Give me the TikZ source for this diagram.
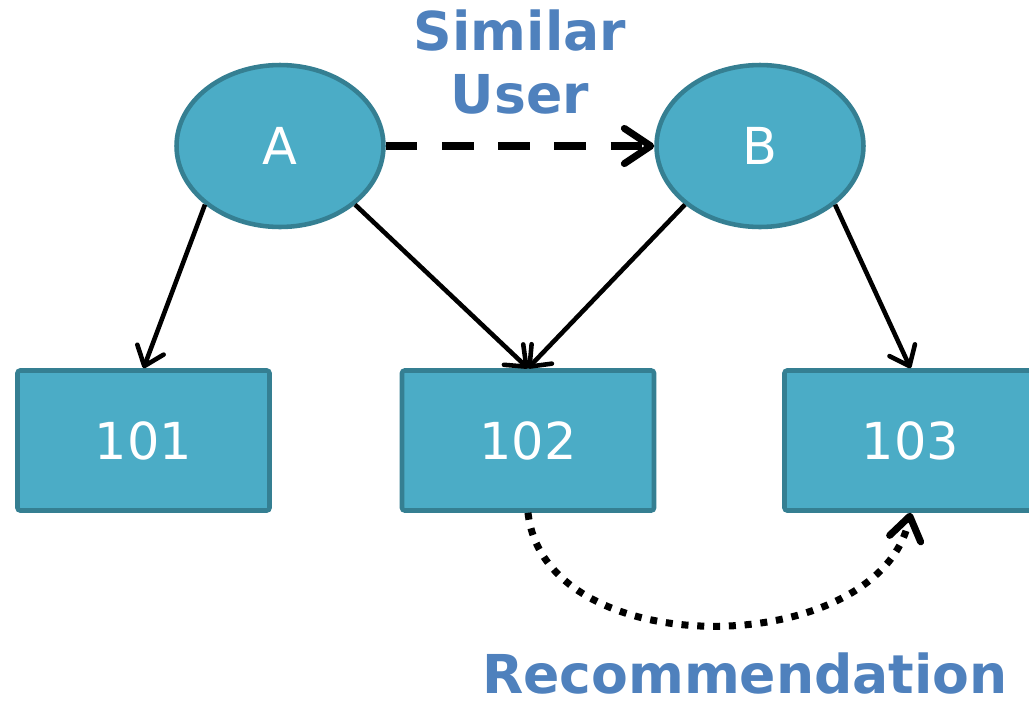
\documentclass[tikz,border=0pt]{standalone}
\usepackage{fontspec}
\setmainfont{DejaVu Sans}
\usepackage{tikz}
\usetikzlibrary{positioning,
                arrows.meta,
                shapes.geometric,
                calc}

\begin{document}
\begin{tikzpicture}[x=0.02cm,y=-0.02cm,
  user/.style={ellipse,draw=border,fill=body,line width=2.6pt,
    minimum width=4.14cm,minimum height=3.24cm,text=white,
    font=\fontsize{29}{34}\selectfont},
  item/.style={rectangle,rounded corners=1.5pt,draw=border,fill=body,line width=2.6pt,
    minimum width=5.04cm,minimum height=2.8cm,text=white,
    font=\fontsize{29}{34}\selectfont},
  rates/.style={line width=2.6pt,-{Straight Barb[length=10pt,width=16pt,round]}},
  caption/.style={text=caption,font=\bfseries\fontsize{30.5}{36}\selectfont,align=center}]
\definecolor{body}{HTML}{4BACC6} \definecolor{border}{HTML}{357F92}
\definecolor{caption}{HTML}{4F81BD}
\useasboundingbox (0,0) rectangle (1029,704);
\node [user] (A) at (280,146) {A};
\node [user] (B) at (760,146) {B};
\node [item] (i101) at (143.5,440.5) {101};
\node [item] (i102) at (528,440.5) {102};
\node [item] (i103) at (910.5,440.5) {103};
\draw [line width=4pt,dash pattern=on 18pt off 14pt,
  -{Straight Barb[length=15pt,width=20pt,round]}] (A.east) -- (B.west);
\draw [rates] (A.218) -- (i101.north);
\draw [rates] (A.322) -- (i102.north);
\draw [rates] (B.218) -- (i102.north);
\draw [rates] (B.322) -- (i103.north);
\draw [line width=4pt,dash pattern=on 4pt off 5pt,
  -{Straight Barb[length=13pt,width=18pt,round]}]
  (i102.south) .. controls (545,666) and (880,660) .. (i103.south);
\node [caption] (similar) at (520,62) {Similar\\User};
\node [caption,anchor=base,inner sep=0pt] (recommend) at (745,693) {Recommendation};
\end{tikzpicture}
\end{document}
